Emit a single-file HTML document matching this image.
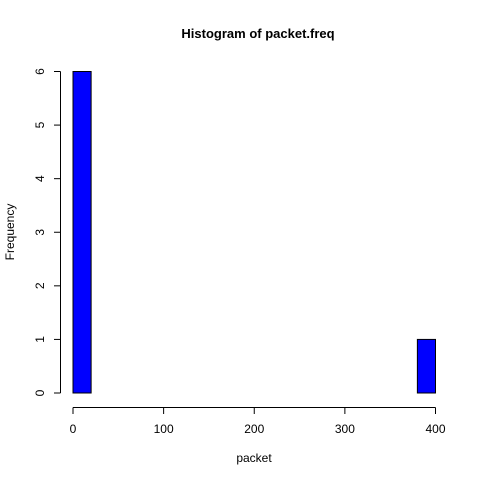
<!DOCTYPE html>
<html><head><meta charset="utf-8"><style>body{margin:0;background:#fff}svg{display:block;font-family:"Liberation Sans",Arial,sans-serif}</style></head>
<body>
<svg id="c" width="480" height="480">
<text x="258" y="38" text-anchor="middle" font-size="13" font-weight="bold">Histogram of packet.freq</text>
<text x="254" y="462" text-anchor="middle" font-size="12">packet</text>
<text transform="translate(14,232) rotate(-90)" text-anchor="middle" font-size="12">Frequency</text>
<g id="bars"></g><g id="xa"></g><g id="ya"></g>
</svg>
<script>
const binStarts=[0,20,40,60,80,100,120,140,160,180,200,220,240,260,280,300,320,340,360,380];
const counts=[6,0,0,0,0,0,0,0,0,0,0,0,0,0,0,0,0,0,0,1];
const xTicks=[0,100,200,300,400];
const yTicks=[0,1,2,3,4,5,6];
const binWidth=20;
const NS="http://www.w3.org/2000/svg";
const sx=v=>73+v*(435.5-73)/400;
const sy=v=>393-v*(393-71.5)/6;
function mk(t,a,p){const e=document.createElementNS(NS,t);for(const k in a)e.setAttribute(k,a[k]);p.appendChild(e);return e;}
const bars=document.getElementById('bars');
binStarts.forEach((b,i)=>{
 const r=mk('rect',{x:sx(b),y:sy(counts[i]),width:sx(b+binWidth)-sx(b),height:sy(0)-sy(counts[i]),fill:'#0000ff',stroke:'#000','stroke-width':1},bars);
 
 
});
const xa=document.getElementById('xa');
mk('line',{x1:sx(xTicks[0]),x2:sx(xTicks[xTicks.length-1]),y1:407.5,y2:407.5,stroke:'#000'},xa);
xTicks.forEach(t=>{
 mk('line',{x1:sx(t),x2:sx(t),y1:407.5,y2:414,stroke:'#000'},xa);
 const tx=mk('text',{x:sx(t),y:433,'text-anchor':'middle','font-size':12},xa);tx.textContent=t;
 
 
});
const ya=document.getElementById('ya');
mk('line',{x1:60.5,x2:60.5,y1:sy(yTicks[0]),y2:sy(yTicks[yTicks.length-1]),stroke:'#000'},ya);
yTicks.forEach(t=>{
 mk('line',{x1:54,x2:60.5,y1:sy(t),y2:sy(t),stroke:'#000'},ya);
 const tx=mk('text',{transform:`translate(44,${sy(t)}) rotate(-90)`,'text-anchor':'middle','font-size':12},ya);tx.textContent=t;
 
 
});
</script>
</body></html>
